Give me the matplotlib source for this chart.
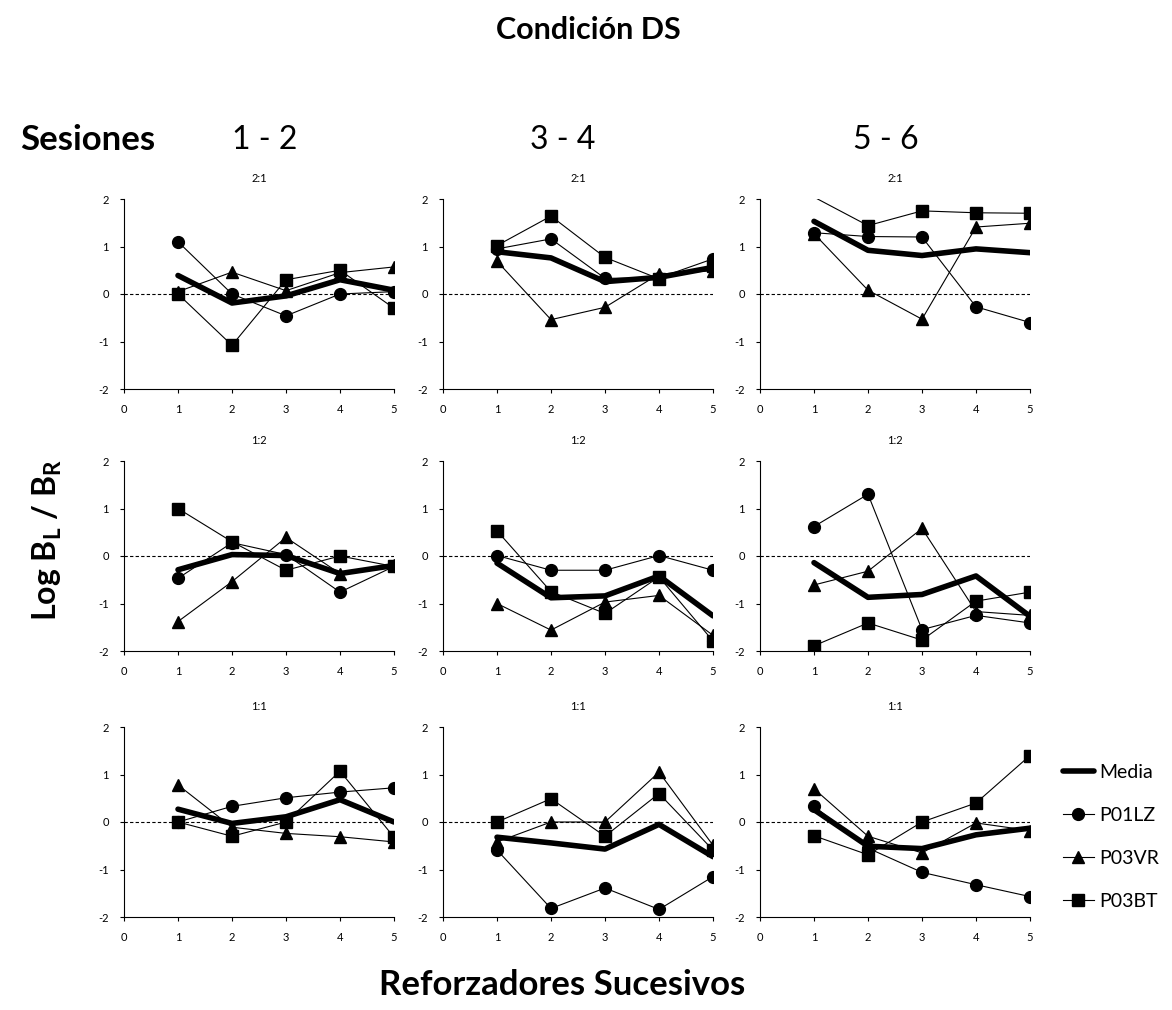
import numpy as np
import matplotlib.pyplot as plt

plt.rcParams['font.family'] = ['Lato', 'DejaVu Sans']
plt.rcParams['mathtext.fontset'] = 'custom'
plt.rcParams['mathtext.rm'] = 'Lato'
plt.rcParams['mathtext.bf'] = 'Lato:bold'
plt.rcParams['axes.unicode_minus'] = False

reforzadores = [1, 2, 3, 4, 5]
razones = ["2:1", "1:2", "1:1"]
sesiones = ["1 - 2", "3 - 4", "5 - 6"]

# one list per panel, row by row (2:1, 1:2, 1:1) and sessions 1-2, 3-4, 5-6
media = [
    [0.39, -0.19, -0.04, 0.30, 0.08],
    [0.89, 0.76, 0.26, 0.35, 0.56],
    [1.53, 0.92, 0.81, 0.95, 0.87],
    [-0.29, 0.03, 0.01, -0.37, -0.20],
    [-0.15, -0.88, -0.84, -0.42, -1.26],
    [-0.14, -0.87, -0.81, -0.42, -1.27],
    [0.27, -0.03, 0.11, 0.47, 0.00],
    [-0.32, -0.44, -0.57, -0.05, -0.73],
    [0.26, -0.51, -0.56, -0.27, -0.13],
]
p01lz = [
    [1.10, 0.00, -0.46, 0.00, 0.05],
    [0.95, 1.16, 0.33, 0.34, 0.74],
    [1.29, 1.21, 1.20, -0.27, -0.60],
    [-0.47, 0.28, 0.03, -0.76, -0.22],
    [0.01, -0.30, -0.30, 0.01, -0.30],
    [0.62, 1.30, -1.55, -1.25, -1.41],
    [0.00, 0.33, 0.51, 0.63, 0.72],
    [-0.59, -1.82, -1.39, -1.84, -1.15],
    [0.33, -0.55, -1.06, -1.32, -1.57],
]
p03vr = [
    [0.05, 0.46, 0.07, 0.45, 0.57],
    [0.69, -0.54, -0.28, 0.42, 0.49],
    [1.27, 0.08, -0.53, 1.41, 1.49],
    [-1.38, -0.54, 0.39, -0.37, -0.18],
    [-1.00, -1.56, -0.97, -0.83, -1.67],
    [-0.61, -0.32, 0.58, -1.17, -1.25],
    [0.78, -0.11, -0.24, -0.31, -0.42],
    [-0.42, 0.00, 0.00, 1.05, -0.49],
    [0.70, -0.30, -0.65, -0.02, -0.18],
]
p03bt = [
    [0.00, -1.08, 0.30, 0.50, -0.30],
    [1.02, 1.64, 0.77, 0.32, 0.60],
    [2.04, 1.44, 1.75, 1.71, 1.70],
    [1.00, 0.30, -0.30, 0.00, -0.22],
    [0.53, -0.75, -1.21, -0.44, -1.79],
    [-1.89, -1.41, -1.77, -0.95, -0.76],
    [0.00, -0.30, 0.00, 1.07, -0.32],
    [0.00, 0.49, -0.30, 0.60, -0.59],
    [-0.29, -0.69, 0.00, 0.40, 1.40],
]

W, H = 1172, 1010
fig = plt.figure(figsize=(W / 100, H / 100), dpi=100)

col_left = [124, 443, 760]
row_top = [199, 461, 727]
ax_w, ax_h = 270, 190


def visibles(vals):
    # like Excel: no marker for points outside the axis range
    return [i for i, v in enumerate(vals) if -2 <= v <= 2]


for r in range(3):
    for c in range(3):
        k = r * 3 + c
        ax = fig.add_axes([col_left[c] / W, 1 - (row_top[r] + ax_h) / H, ax_w / W, ax_h / H])
        ax.axhline(0, color="black", lw=0.8, ls=(0, (3, 2)))
        ax.plot(reforzadores, media[k], color="black", lw=4, solid_capstyle="round",
                solid_joinstyle="round", label="Media")
        ax.plot(reforzadores, p01lz[k], color="black", lw=0.8, marker="o", ms=8.5,
                markevery=visibles(p01lz[k]), label="P01LZ")
        ax.plot(reforzadores, p03vr[k], color="black", lw=0.8, marker="^", ms=8.5,
                markevery=visibles(p03vr[k]), label="P03VR")
        ax.plot(reforzadores, p03bt[k], color="black", lw=0.8, marker="s", ms=8,
                markevery=visibles(p03bt[k]), label="P03BT")
        ax.set_xlim(0, 5)
        ax.set_ylim(-2, 2)
        ax.set_xticks(range(6))
        ax.set_yticks(range(-2, 3))
        ax.tick_params(labelsize=8, length=3, width=0.8, direction="out", pad=8)
        ax.tick_params(axis="y", pad=8)
        for s in ["top", "right"]:
            ax.spines[s].set_visible(False)
        for s in ["left", "bottom"]:
            ax.spines[s].set_linewidth(0.8)
        ax.set_title(razones[r], fontsize=8, pad=12)

handles, labels = ax.get_legend_handles_labels()
fig.legend(handles, labels, loc="upper left", bbox_to_anchor=(1045 / W, 1 - 746 / H),
           frameon=False, fontsize=14, handlelength=1.6, handletextpad=0.3,
           labelspacing=1.35)

fig.text(588 / W, 1 - 30 / H, "Condición DS", ha="center", va="center",
         fontsize=22, fontweight="bold")
fig.text(20 / W, 1 - 140 / H, "Sesiones", ha="left", va="center",
         fontsize=25, fontweight="bold")
for c, s in enumerate([265, 563, 886]):
    fig.text(s / W, 1 - 140 / H, sesiones[c], ha="center", va="center", fontsize=23)
fig.text(47 / W, 1 - 540 / H, r"Log B$_\mathbf{L}$ / B$_\mathbf{R}$", ha="center",
         va="center", rotation=90, fontsize=23, fontweight="bold")
fig.text(562 / W, 1 - 985 / H, "Reforzadores Sucesivos", ha="center", va="center",
         fontsize=25, fontweight="bold")

fig.savefig("out.png", dpi=100)
